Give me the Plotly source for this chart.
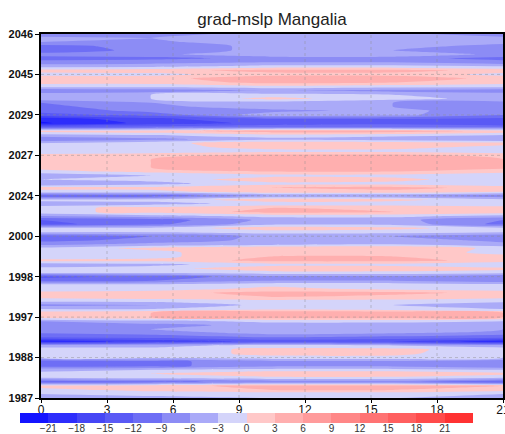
import plotly.graph_objects as go

# ---- data ----
TITLE = "grad-mslp Mangalia"
X_NODES = [0, 5, 10.5, 16, 21]
X_TICKS = [0, 3, 6, 9, 12, 15, 18, 21]
YEAR_LABELS = ["1987", "1988", "1997", "1998", "2000", "2024", "2027", "2029", "2045", "2046"]
LEVELS = [-21, -18, -15, -12, -9, -6, -3, 0, 3, 6, 9, 12, 15, 18, 21]
COLORS = ["#1414ff", "#2d2dfc", "#4646f5", "#5a5af5", "#6e6ef5", "#8c8cf5", "#aaaaf8", "#d4d4fa",
          "#ffc8c8", "#ffafaf", "#ff9b9b", "#ff8787", "#ff7373", "#ff5f5f", "#ff4b4b", "#ff3232"]

# rows listed from top (2046) to bottom (1987); values at X_NODES
ROWS_TOP_DOWN = [
    [-8, -7, -5, -5, -8], [-5, -6, -3, -4, -5], [-6, -7, -3, -4, -5], [-10, -8, -5, -5, -7],
    [-11, -8, -5, -6, -8], [-8, -7, -3, -3, -7], [-10, -10, -8, -8, -10], [-8, -7, -6, -6, -8],
    [-4, -4, -2, -2, -3], [1, 2, 4, 4, 2], [-1, -1, 2, 2, -1], [2, 2, 5, 5, 2],
    [1, 1, 4, 3, 1], [-2, -2, -1, -2, -2], [-9, -8, -6, -7, -8], [-4, -3, -2, -3, -4],
    [-4, -3, 1, -2, -4], [-9, -6, -5, -6, -7], [-10, -7, -4, -6, -8], [-11, -8, -7, -5, -8],
    [-13, -11, -4, -5, -9], [-20, -16, -12, -12, -13], [-21.5, -17, -14, -13, -15], [-12, -11, -10, -10, -10],
    [1, 2, 5, 5, 2], [-4, -3, -1, -2, -3], [-9, -7, -4, -5, -6], [-3, -1, 2, 2, 1],
    [-2, -1, 1, 1, -1], [-2, -2, -1, -1, -2], [1, 2, 4, 4, 2], [1, 3, 6, 6, 3],
    [1, 3, 6, 5, 3], [1, 3, 5, 5, 4], [-1, 1, 3, 3, 1], [-6, -3, -1, -1, -2],
    [-3, -2, 2, 1, -2], [-6, -4, -1, -1, -3], [1, 1, 3, 4, 2], [-1, -1, 2, 2, 0],
    [-12, -11, -6, -6, -8], [-2, -2, 2, 1, -2], [-5, -4, -2, -2, -3], [-1, 1, 3, 3, 2],
    [-1, 1, 4, 3, 2], [-6, -4, -2, -2, -4], [-12, -11, -5, -5, -9], [-13, -10, -4, -4, -10],
    [-2, -2, 2, 1, -2], [-3, -3, -2, -2, -3], [-11, -9, -5, -6, -8], [-10, -8, -5, -4, -7],
    [-7, -5, -4, -3, -5], [-2, 1, 3, 3, -1], [-2, -1, 3, 2, -1], [-2, -1, 3, 3, 1],
    [1, 1, 4, 4, 2], [-5, -4, -1, -1, -3], [-2, -1, 2, 2, 1], [-2, -2, -1, -1, -2],
    [-13, -11, -7, -7, -9], [-10, -9, -6, -6, -8], [-2, -2, -1, -1, -2], [-2, -2, 1, -1, -2],
    [1, 2, 4, 4, 2], [1, 2, 3, 2, 1], [-2, -2, -1, -1, -2], [-7, -6, -2, -3, -5],
    [-3, -3, -1, -2, -3], [2, 3, 6, 6, 3], [2, 3, 5, 5, 3], [-6, -4, -2, -2, -3],
    [-9, -7, -5, -5, -6], [-7, -6, -3, -4, -6], [-9, -8, -5, -6, -8], [-12, -11, -9, -10, -11],
    [-20, -17, -14, -15, -20], [-4, -4, -2, -3, -4], [-2, -2, 1, 1, -2], [-3, -2, 1, 1, -3],
    [-3, -2, -1, -1, -3], [-11, -10, -7, -7, -8], [-11, -10, -7, -7, -9], [-4, -3, -2, -2, -3],
    [-2, 0, 3, 3, 1], [-3, -2, -1, -1, -3], [-11, -10, -8, -8, -12], [1, 2, 4, 4, 3],
    [-1, 1, 3, 3, 1], [-3, -2, -2, -2, -3], [-4, -4, -3, -3, -4],
]

# ---- build ----
W, H = 505, 434
z = ROWS_TOP_DOWN[::-1]
n = len(z)
y_idx = list(range(n))
step = (n - 1) / (len(YEAR_LABELS) - 1)
y_tickvals = [i * step for i in range(len(YEAR_LABELS))]

nb = len(COLORS)
contour_cs = [[k / (nb - 1), c] for k, c in enumerate(COLORS)]
cs_size = LEVELS[1] - LEVELS[0]

# stepwise colorscale for the colorbar heatmap
edges = [LEVELS[0] - cs_size] + LEVELS + [LEVELS[-1] + cs_size]
zmin, zmax = edges[0], edges[-1]
step_cs = []
for k, c in enumerate(COLORS):
    a = (edges[k] - zmin) / (zmax - zmin)
    b = (edges[k + 1] - zmin) / (zmax - zmin)
    step_cs += [[a, c], [b, c]]
cb_centers = [(edges[k] + edges[k + 1]) / 2 for k in range(nb)]

fig = go.Figure()
fig.add_trace(go.Heatmap(
    x=edges, y=[0, 1], z=[cb_centers],
    colorscale=step_cs, zmin=zmin, zmax=zmax, showscale=False,
    xaxis="x2", yaxis="y2",
))
fig.add_trace(go.Contour(
    x=X_NODES, y=y_idx, z=z,
    autocontour=False,
    contours=dict(start=LEVELS[0], end=LEVELS[-1], size=cs_size, coloring="fill", showlines=False),
    line=dict(width=0, smoothing=0.6),
    colorscale=contour_cs, showscale=False,
    xaxis="x", yaxis="y",
))

# plot geometry (pixels)
mt, mb = 34, 8
ph = H - mt - mb
px_left, px_right, px_top, px_bot = 41, 503, 34, 398
cb_left, cb_right, cb_top, cb_bot = 20, 473, 413, 423

def yfrac(py):
    return (H - mb - py) / ph

grid_line = dict(color="rgba(140,140,140,0.45)", width=1, dash="dot")
shapes = []
for xv in X_TICKS[1:-1]:
    shapes.append(dict(type="line", xref="x", yref="y", x0=xv, x1=xv, y0=0, y1=n - 1,
                       line=grid_line, layer="above"))
for yv in y_tickvals[1:-1]:
    shapes.append(dict(type="line", xref="x", yref="y", x0=X_NODES[0], x1=X_NODES[-1], y0=yv, y1=yv,
                       line=grid_line, layer="above"))

fig.update_layout(
    width=W, height=H,
    margin=dict(l=0, r=0, t=mt, b=mb, autoexpand=False),
    paper_bgcolor="white", plot_bgcolor="white",
    title=dict(text=TITLE, x=(px_left + px_right) / 2 / W, xanchor="center",
               y=1 - 19 / H, yanchor="middle", automargin=False,
               font=dict(family="Liberation Sans", size=17, color="#222")),
    xaxis=dict(domain=[px_left / W, px_right / W], range=[X_NODES[0], X_NODES[-1]],
               tickvals=X_TICKS, ticks="outside", ticklen=3, tickcolor="black",
               ticklabelstandoff=-3, ticklabeloverflow="allow",
               showline=True, linecolor="black", linewidth=1.5, mirror=True,
               showgrid=False, zeroline=False, automargin=False,
               tickfont=dict(family="Liberation Sans", size=12, color="#111"), anchor="y"),
    yaxis=dict(domain=[yfrac(px_bot), yfrac(px_top)], range=[0, n - 1],
               tickvals=y_tickvals, ticktext=YEAR_LABELS, ticks="outside", ticklen=4, tickcolor="black",
               showline=True, linecolor="black", linewidth=1.5, mirror=True,
               showgrid=False, zeroline=False, automargin=False,
               tickfont=dict(family="Liberation Sans", size=11, color="#111", weight="bold"), anchor="x"),
    xaxis2=dict(domain=[cb_left / W, cb_right / W], range=[zmin, zmax],
                tickvals=LEVELS, ticks="", showline=False, showgrid=False, zeroline=False,
                automargin=False, ticklabelstandoff=-2,
                tickfont=dict(family="Liberation Sans", size=10, color="#333"), anchor="y2"),
    yaxis2=dict(domain=[yfrac(cb_bot), yfrac(cb_top)], range=[0, 1], showticklabels=False,
                ticks="", showline=False, showgrid=False, zeroline=False, automargin=False,
                anchor="x2"),
    shapes=shapes,
)

fig.write_html("out.html")
